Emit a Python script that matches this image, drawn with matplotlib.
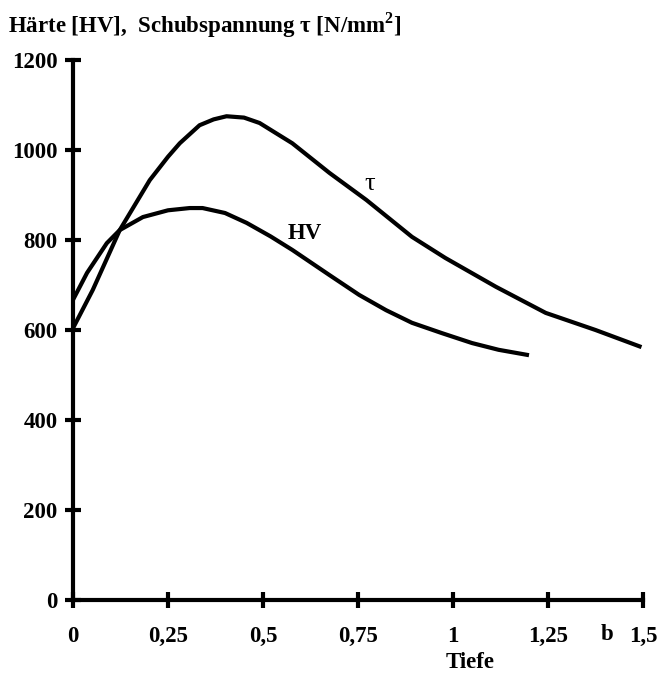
import matplotlib
matplotlib.use("Agg")
import matplotlib.pyplot as plt

plt.rcParams['font.family'] = ['Liberation Serif', 'DejaVu Serif']
plt.rcParams['mathtext.fontset'] = 'custom'
plt.rcParams['mathtext.rm'] = 'Liberation Serif'
plt.rcParams['mathtext.bf'] = 'Liberation Serif:bold'

# Data
tau_x = [0.0, 0.052, 0.123, 0.202, 0.25, 0.281, 0.333, 0.37, 0.404, 0.45, 0.491, 0.577,
         0.675, 0.772, 0.892, 0.98, 1.113, 1.244, 1.375, 1.496]
tau_y = [604, 689, 822, 933, 985, 1015, 1055, 1068, 1075, 1072, 1060, 1015,
         949, 889, 807, 760, 696, 638, 600, 562]

hv_x = [0.0, 0.037, 0.089, 0.123, 0.184, 0.25, 0.307, 0.341, 0.4, 0.457, 0.52, 0.577,
        0.675, 0.753, 0.824, 0.892, 0.971, 1.05, 1.12, 1.2]
hv_y = [667, 727, 793, 822, 851, 866, 871, 871, 860, 838, 808, 778,
        722, 678, 644, 616, 593, 571, 556, 544]

x_ticks = [0, 0.25, 0.5, 0.75, 1, 1.25, 1.5]
x_tick_labels = ['0', '0,25', '0,5', '0,75', '1', '1,25', '1,5']
y_ticks = [0, 200, 400, 600, 800, 1000, 1200]

fig = plt.figure(figsize=(6.62, 6.73), dpi=100)
ax = fig.add_axes([73/662, 1-600/673, (643-73)/662, (600-60)/673])

ax.plot(tau_x, tau_y, color='black', lw=3, solid_capstyle='butt', solid_joinstyle='round')
ax.plot(hv_x, hv_y, color='black', lw=3, solid_capstyle='butt', solid_joinstyle='round')

ax.set_xlim(0, 1.5)
ax.set_ylim(0, 1200)
ax.set_xticks(x_ticks)
ax.set_xticklabels(x_tick_labels)
ax.set_yticks(y_ticks)
for s in ['top', 'right']:
    ax.spines[s].set_visible(False)
for s in ['left', 'bottom']:
    ax.spines[s].set_linewidth(3)
ax.tick_params(axis='both', direction='inout', length=12, width=3, labelsize=16.5)
ax.tick_params(axis='x', pad=13)
ax.tick_params(axis='y', pad=5)
for lab in ax.get_xticklabels() + ax.get_yticklabels():
    lab.set_fontweight('bold')

ax.text(0.78, 925, 'τ', fontsize=19, ha='center', va='center')
ax.text(0.61, 815, 'HV', fontsize=16.5, fontweight='bold', ha='center', va='center')

fig.text(607/662, 1-634/673, 'b', fontsize=16.5, fontweight='bold', ha='center', va='center')
fig.text(470/662, 1-662/673, 'Tiefe', fontsize=16.5, fontweight='bold', ha='center', va='center')
fig.text(8/662, 1-25/673, r'Härte [HV],  Schubspannung τ [N/mm$^\mathbf{2}$]',
         fontsize=16.5, fontweight='bold', ha='left', va='center')

fig.savefig('out.png', dpi=100, facecolor='white')
